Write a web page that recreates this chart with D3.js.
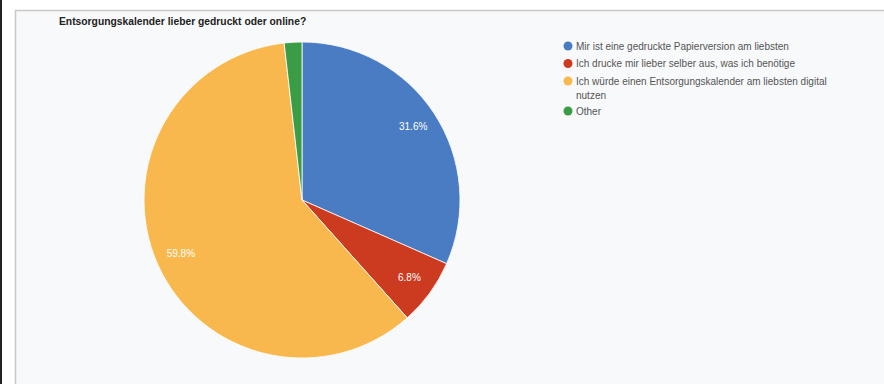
<!DOCTYPE html>
<html lang="de">
<head>
  <meta charset="UTF-8" />
  <title>Entsorgungskalender</title>
  <script src="https://d3js.org/d3.v7.min.js"></script>
  <style>
    body { margin: 0; background: #fff; font-family: "Liberation Sans", Arial, sans-serif; }
    svg { display: block; }
    .title { font-size: 10.3px; font-weight: bold; fill: #222; }
    .slice-label { font-size: 10px; fill: #fff; text-anchor: middle; dominant-baseline: middle; }
    .legend-label { font-size: 10px; fill: #555; }
  </style>
</head>
<body>
  <svg width="884" height="384"></svg>
  <script>
    // data
    const categories = [
      "Mir ist eine gedruckte Papierversion am liebsten",
      "Ich drucke mir lieber selber aus, was ich benötige",
      "Ich würde einen Entsorgungskalender am liebsten digital|nutzen",
      "Other"
    ];
    const shares = [31.6, 6.8, 59.8, 1.8];
    const colors = ["#4a7cc3", "#cc3a1f", "#f9b84e", "#3a9d45"];

    const svg = d3.select("svg");
    const width = +svg.attr("width"), height = +svg.attr("height");

    // frame: dark strip at the left, panel with grey border
    svg.append("rect").attr("x", 0).attr("y", 0).attr("width", 2).attr("height", height).attr("fill", "#222");
    svg.append("rect").attr("x", 15.5).attr("y", 10.5).attr("width", width).attr("height", height)
      .attr("fill", "#f8f9fa").attr("stroke", "#c8c8c8").attr("stroke-width", 1.5);

    svg.append("text").attr("class", "title").attr("x", 59).attr("y", 25)
      .text("Entsorgungskalender lieber gedruckt oder online?");

    const data = categories.map((c, i) => ({ name: c, value: shares[i], color: colors[i] }));
    const cx = 302, cy = 200, r = 158;

    const pie = d3.pie().value(d => d.value).sort(null);
    const arc = d3.arc().innerRadius(0).outerRadius(r);
    const labelArc = d3.arc().innerRadius(r * 0.84).outerRadius(r * 0.84);

    const g = svg.append("g").attr("transform", `translate(${cx},${cy})`);
    const arcs = pie(data);

    g.selectAll("path")
      .data(arcs)
      .enter()
      .append("path")
      .attr("d", arc)
      .attr("fill", d => d.data.color)
      .attr("stroke", "#fff")
      .attr("stroke-width", 0.8);

    g.selectAll(".slice-label")
      .data(arcs.filter(d => d.data.value > 5))
      .enter()
      .append("text")
      .attr("class", "slice-label")
      .attr("transform", d => `translate(${labelArc.centroid(d)})`)
      .text(d => d3.format(".1f")(d.data.value) + "%");

    // legend
    const legend = svg.append("g").attr("transform", "translate(568,46)");
    let y = 0;
    data.forEach(d => {
      const lines = d.name.split("|");
      legend.append("circle").attr("cx", 0).attr("cy", y).attr("r", 4.5).attr("fill", d.color);
      lines.forEach((line, j) => {
        legend.append("text").attr("class", "legend-label")
          .attr("x", 8).attr("y", y + j * 14).attr("dy", "0.35em").text(line);
      });
      y += 17.5 + (lines.length - 1) * 12.5;
    });
  </script>
</body>
</html>
